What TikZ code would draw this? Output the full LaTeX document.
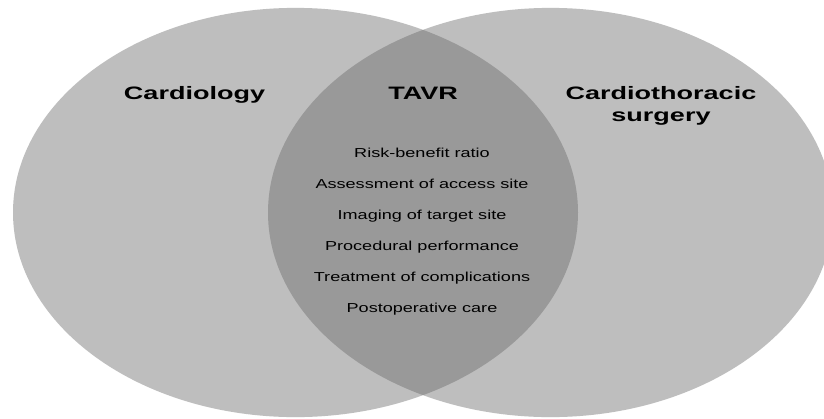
\documentclass[tikz,border=0pt]{standalone}
\usepackage{fontspec}
\setmainfont{Liberation Sans}
\definecolor{setgray}{gray}{0.745}
\definecolor{lensgray}{gray}{0.600}
\begin{document}
\begin{tikzpicture}[x=1pt,y=-1pt,
  heading/.style={font=\fontsize{18}{20}\selectfont\bfseries, xscale=1.5, inner sep=0pt, anchor=base},
  item/.style={font=\fontsize{13}{15}\selectfont, xscale=1.39, inner sep=0pt, anchor=base},
  setfill/.style={fill=setgray, draw=none}]
\useasboundingbox (0,0) rectangle (824,418);
\fill[white] (0,0) rectangle (824,418);
% the two sets
\path[setfill] (295.5,212.5) ellipse [x radius=282.5, y radius=204.6];
\path[setfill] (550.5,212.5) ellipse [x radius=282.5, y radius=204.6];
% their overlap
\begin{scope}
  \clip (295.5,212.5) ellipse [x radius=282.5, y radius=204.6];
  \fill[lensgray] (550.5,212.5) ellipse [x radius=282.5, y radius=204.6];
\end{scope}
% headings
\node[heading] (cardio) at (194.5,99) {Cardiology};
\node[heading] (tavr) at (423,99) {TAVR};
\node[heading] (ct1) at (661,99) {Cardiothoracic};
\node[heading] (ct2) at (661,121) {surgery};
% shared tasks
\node[item] (i1) at (422,157.3) {Risk-benefit ratio};
\node[item] (i2) at (422,188.4) {Assessment of access site};
\node[item] (i3) at (422,219.5) {Imaging of target site};
\node[item] (i4) at (422,250.6) {Procedural performance};
\node[item] (i5) at (422,281.7) {Treatment of complications};
\node[item] (i6) at (422,312.8) {Postoperative care};
\end{tikzpicture}
\end{document}
